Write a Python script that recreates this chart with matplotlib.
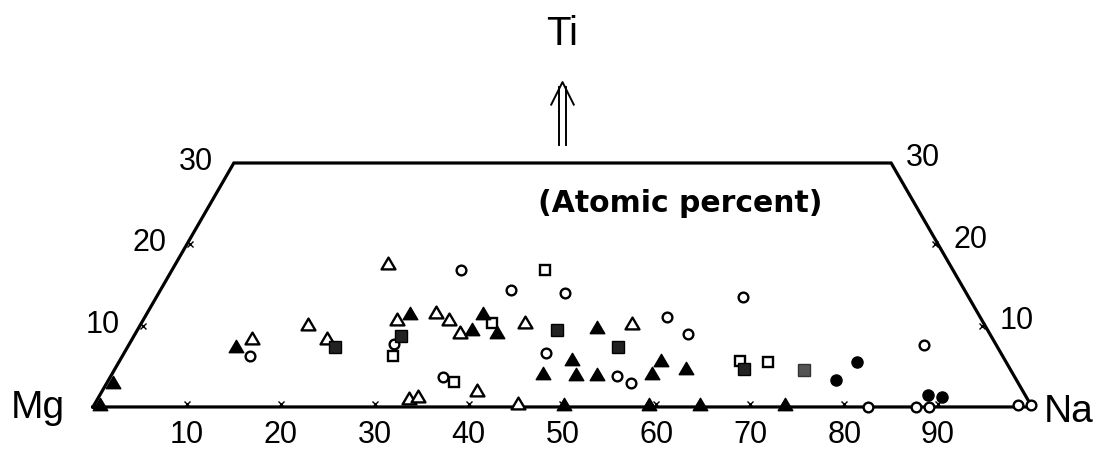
import numpy as np
import matplotlib.pyplot as plt
from matplotlib.path import Path

# ---- data: (Na, Ti) in atomic percent, Mg = rest ----
open_tri_na = [12.7, 17.8, 20.7, 22.6, 27.0, 30.7, 32.5, 34.5, 40.8, 52.3, 33.1, 33.9, 39.8, 45.0]
open_tri_ti = [8.5, 10.2, 8.5, 17.7, 10.8, 11.7, 10.8, 9.2, 10.5, 10.3, 1.1, 1.4, 2.1, 0.5]

fill_tri_na = [0.5, 0.6, 11.5, 28.0, 35.6, 35.7, 38.4, 48.8, 48.1, 45.8, 49.4, 51.6, 57.4, 57.6, 60.8,
               50.0, 59.0, 64.4, 73.5]
fill_tri_ti = [0.4, 3.1, 7.5, 11.6, 9.6, 11.6, 9.2, 9.8, 5.9, 4.2, 4.1, 4.1, 4.2, 5.8, 4.8,
               0.4, 0.4, 0.4, 0.4]

open_circ_na = [13.6, 30.7, 37.3, 28.2, 35.4, 43.3, 44.9, 53.9, 55.8, 55.6, 58.9, 62.5, 84.7,
                82.5, 87.6, 89.0, 98.4, 99.8]
open_circ_ti = [6.3, 16.9, 14.4, 7.7, 3.7, 14.0, 6.6, 3.8, 3.0, 11.1, 9.0, 13.5, 7.6,
                0.0, 0.0, 0.0, 0.2, 0.2]

fill_circ_na = [77.5, 78.6, 88.2, 89.8]
fill_circ_ti = [3.3, 5.5, 1.5, 1.2]

open_sq_na = [28.8, 36.9, 37.3, 39.7, 66.1, 69.1]
open_sq_ti = [6.3, 3.1, 10.3, 16.9, 5.7, 5.5]

fill_sq_na = [22.1, 28.5, 44.7, 52.2, 67.0]
fill_sq_ti = [7.4, 8.7, 9.5, 7.4, 4.7]

gray_sq_na = [73.4]
gray_sq_ti = [4.6]

ti_max = 30
base_ticks = [10, 20, 30, 40, 50, 60, 70, 80, 90]
side_ticks = [10, 20, 30]

h = np.sqrt(3) / 2


def tern(na, ti):
    # Mg at origin, Na at (100, 0), Ti apex up
    na = np.asarray(na, dtype=float)
    ti = np.asarray(ti, dtype=float)
    return na + ti / 2, ti * h


fig = plt.figure(figsize=(11, 4.51), dpi=100)
ax = fig.add_axes([0, 0, 1, 1])
ax.set_xlim(-9.90, 107.24)
ax.set_ylim(-4.69, 43.34)
ax.axis('off')

# truncated triangle outline
ox, oy = tern([0, 100, 100 - ti_max, 0, 0], [0, 0, ti_max, ti_max, 0])
ax.plot(ox, oy, color='black', lw=2.3, solid_joinstyle='miter', zorder=2)

# ticks on the edges
bx, by = tern(base_ticks, np.zeros(len(base_ticks)))
ax.plot(bx, by + 0.35, 'x', color='black', ms=5, mew=1, zorder=2)
lx, ly = tern([0, 0], side_ticks[:2])
ax.plot(lx + 0.3, ly, 'x', color='black', ms=4, mew=1, zorder=2)
rx, ry = tern([100 - t for t in side_ticks[:2]], side_ticks[:2])
ax.plot(rx - 0.3, ry, 'x', color='black', ms=4, mew=1, zorder=2)

lab = dict(family='Liberation Sans', fontsize=22, color='black')
for t, x in zip(base_ticks, bx):
    ax.text(x, -3.85, str(t), ha='center', va='baseline', **lab)
sx, sy = tern([0, 0, 0], side_ticks)
for t, x, y in zip(side_ticks, sx, sy):
    ax.text(x - 4.0, y + 0.1, str(t), ha='center', va='center', **lab)
sx, sy = tern([100 - t for t in side_ticks], side_ticks)
for t, x, y in zip(side_ticks, sx, sy):
    ax.text(x + 3.4, y + 0.5, str(t), ha='center', va='center', **lab)

ax.text(-5.9, -1.2, 'Mg', ha='center', va='baseline', family='Liberation Sans', fontsize=28)
ax.text(101.2, -1.6, 'Na', ha='left', va='baseline', family='Liberation Sans', fontsize=28)
ax.text(50.0, 38.6, 'Ti', ha='center', va='baseline', family='Liberation Sans', fontsize=29)
ax.text(62.5, 20.8, '(Atomic percent)', ha='center', va='baseline',
        family='DejaVu Sans', fontweight='bold', fontsize=21.5)

# double arrow pointing to Ti
ax.plot([49.6, 49.6], [27.9, 34.1], color='black', lw=1.4)
ax.plot([50.4, 50.4], [27.9, 34.1], color='black', lw=1.4)
ax.plot([48.8, 50.0, 51.2], [32.2, 34.6, 32.2], color='black', lw=1.4)

tri = Path([(-1, -0.85), (1, -0.85), (0, 0.85), (-1, -0.85)], closed=True)

x, y = tern(open_tri_na, open_tri_ti)
ax.plot(x, y, ls='none', marker=tri, ms=10, mfc='white', mec='black', mew=1.7, zorder=3)
x, y = tern(fill_tri_na, fill_tri_ti)
ax.plot(x, y, ls='none', marker=tri, ms=10.5, mfc='black', mec='black', mew=1, zorder=4)
x, y = tern(open_circ_na, open_circ_ti)
ax.plot(x, y, ls='none', marker='o', ms=7, mfc='white', mec='black', mew=1.7, zorder=3)
x, y = tern(fill_circ_na, fill_circ_ti)
ax.plot(x, y, ls='none', marker='o', ms=8, mfc='black', mec='black', mew=1, zorder=4)
x, y = tern(open_sq_na, open_sq_ti)
ax.plot(x, y, ls='none', marker='s', ms=7, mfc='white', mec='black', mew=1.7, zorder=3)
x, y = tern(fill_sq_na, fill_sq_ti)
ax.plot(x, y, ls='none', marker='s', ms=8, mfc='#222222', mec='black', mew=1, zorder=4)
x, y = tern(gray_sq_na, gray_sq_ti)
ax.plot(x, y, ls='none', marker='s', ms=8, mfc='#555555', mec='#333333', mew=1, zorder=4)

fig.savefig('out.png', dpi=100)
